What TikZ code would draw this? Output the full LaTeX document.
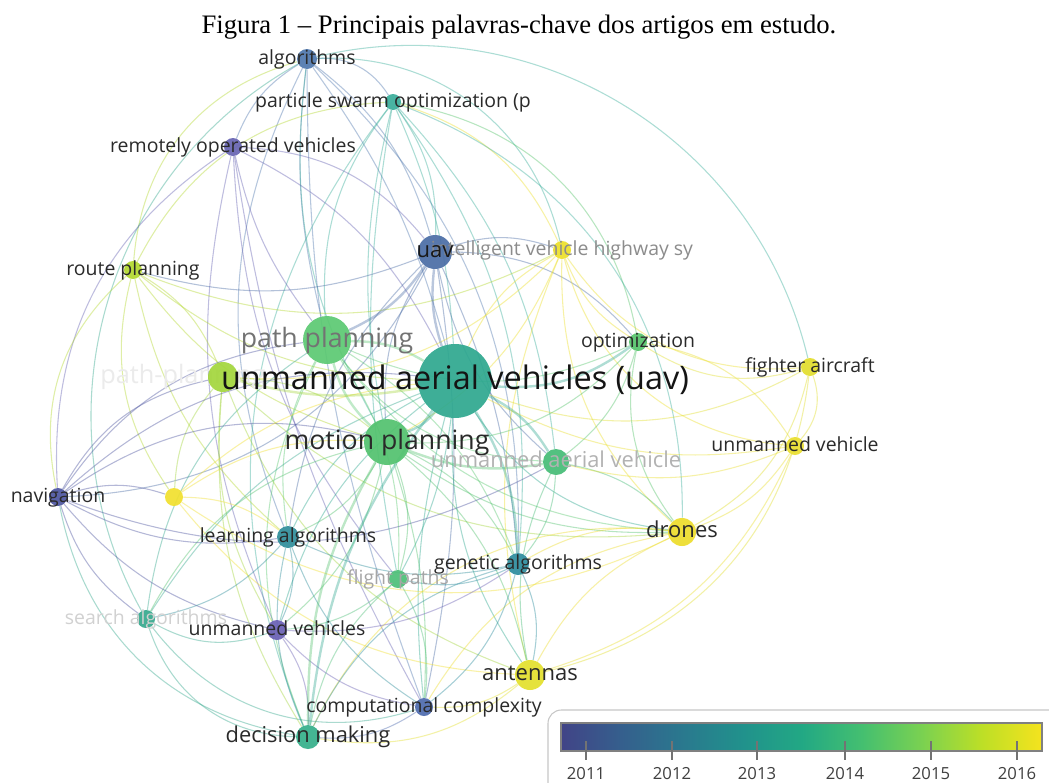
\documentclass[tikz,border=0pt]{standalone}
\usepackage{fontspec}
\setmainfont{Liberation Serif}
\newfontfamily\osans{Open Sans}
\newcommand\lblsize[1]{\osans\fontsize{#1}{#1}\selectfont}
\definecolor{cA}{HTML}{4F78AE}
\definecolor{cP}{HTML}{3AAE9B}
\definecolor{cR}{HTML}{6663B3}
\definecolor{cU}{HTML}{4A6DA6}
\definecolor{cI}{HTML}{EDE02A}
\definecolor{cRP}{HTML}{B3D82E}
\definecolor{cPP}{HTML}{5CC972}
\definecolor{cPH}{HTML}{A3D63C}
\definecolor{cM}{HTML}{2EA88F}
\definecolor{cO}{HTML}{55C46B}
\definecolor{cF}{HTML}{E2DE2C}
\definecolor{cMP}{HTML}{52C26E}
\definecolor{cUA}{HTML}{45BC76}
\definecolor{cUV}{HTML}{EADF2E}
\definecolor{cN}{HTML}{4D55A0}
\definecolor{cY}{HTML}{F1E02E}
\definecolor{cD}{HTML}{EDDD2B}
\definecolor{cLA}{HTML}{2F8E9B}
\definecolor{cGA}{HTML}{2D8D9E}
\definecolor{cFP}{HTML}{4DBF78}
\definecolor{cSA}{HTML}{36A98E}
\definecolor{cUVs}{HTML}{6A60B5}
\definecolor{cAN}{HTML}{E3E02C}
\definecolor{cCC}{HTML}{4E6BAE}
\definecolor{cDM}{HTML}{35AF8A}
\definecolor{lblc}{HTML}{2A2A2A}
\definecolor{v2}{HTML}{414487}
\definecolor{v3}{HTML}{355F8D}
\definecolor{v4}{HTML}{2A788E}
\definecolor{v5}{HTML}{21918C}
\definecolor{v6}{HTML}{22A884}
\definecolor{v7}{HTML}{44BF70}
\definecolor{v8}{HTML}{7AD151}
\definecolor{v9}{HTML}{BDDF26}
\definecolor{v10}{HTML}{F5E31E}
\pgfdeclarehorizontalshading{viridisbar}{100bp}{color(0bp)=(v2); color(25bp)=(v2); color(31.25bp)=(v3); color(37.5bp)=(v4); color(43.75bp)=(v5); color(50bp)=(v6); color(56.25bp)=(v7); color(62.5bp)=(v8); color(68.75bp)=(v9); color(75bp)=(v10); color(100bp)=(v10)}
\pgfdeclarelayer{edges}
\pgfsetlayers{edges,main}
\tikzset{
  dot/.style={circle, inner sep=0pt, draw=none, fill opacity=0.92},
  rad/.style={minimum size=#1*1.5pt},
  lbl/.style={anchor=base, inner sep=0pt, text=lblc, font=\lblsize{#1}, yshift=-0.27*#1pt},
  lbl/.default=14.6,
  edge/.style={line width=0.8pt, draw opacity=0.42},
  bigedge/.style={line width=1.8pt, draw opacity=0.38},
  tick/.style={draw=black!55, line width=0.8pt},
  yearlbl/.style={text=black!75, font=\lblsize{12.5}, anchor=base}
}
\begin{document}
\begin{tikzpicture}[x=0.75pt,y=-0.75pt]
\useasboundingbox (0,0) rectangle (1049,782);
\begin{pgfonlayer}{edges}
\fill[white] (0,0) rectangle (1049,782);
\end{pgfonlayer}
\node[font=\fontsize{20}{24}\selectfont, anchor=base] (title) at (519,33) {Figura 1 -- Principais palavras-chave dos artigos em estudo.};
% faded label under nodes
\node[lbl=19, anchor=base west, text=black!8] (PHl) at (100,377) {path-planning};
% nodes
\node[dot, rad=10, fill=cA] (A) at (307,59) {};
\node[dot, rad=8, fill=cP] (P) at (393,102) {};
\node[dot, rad=9, fill=cR] (R) at (233,147) {};
\node[dot, rad=17, fill=cU] (U) at (435,252) {};
\node[dot, rad=9, fill=cI] (I) at (562,250) {};
\node[dot, rad=9, fill=cRP] (RP) at (133,270) {};
\node[dot, rad=24, fill=cPP] (PP) at (327,340) {};
\node[dot, rad=15, fill=cPH] (PH) at (223,377) {};
\node[dot, rad=37, fill=cM] (M) at (455,381) {};
\node[dot, rad=9, fill=cO] (O) at (638,342) {};
\node[dot, rad=9, fill=cF] (F) at (810,367) {};
\node[dot, rad=23, fill=cMP] (MP) at (387,442) {};
\node[dot, rad=13, fill=cUA] (UA) at (556,462) {};
\node[dot, rad=9, fill=cUV] (UV) at (795,446) {};
\node[dot, rad=9, fill=cN] (N) at (58,497) {};
\node[dot, rad=9, fill=cY] (Y) at (174,497) {};
\node[dot, rad=14, fill=cD] (D) at (682,532) {};
\node[dot, rad=11, fill=cLA] (LA) at (288,537) {};
\node[dot, rad=11, fill=cGA] (GA) at (518,564) {};
\node[dot, rad=9, fill=cFP] (FP) at (398,579) {};
\node[dot, rad=9, fill=cSA] (SA) at (146,619) {};
\node[dot, rad=10, fill=cUVs] (UVs) at (277,630) {};
\node[dot, rad=15, fill=cAN] (AN) at (530,675) {};
\node[dot, rad=9, fill=cCC] (CC) at (424,707) {};
\node[dot, rad=12, fill=cDM] (DM) at (308,737) {};
% labels
\node[lbl] (Al) at (A) {algorithms};
\node[lbl] (Pl) at (P) {particle swarm optimization (p};
\node[lbl] (Rl) at (R) {remotely operated vehicles};
\node[lbl, text=black!45] (Il) at (I) {intelligent vehicle highway sy};
\node[lbl=16.5, text=black!90] (Ul) at (U) {uav};
\node[lbl] (RPl) at (RP) {route planning};
\node[lbl=20, text=black!55] (PPl) at (PP) {path planning};
\node[lbl=24.3, text=black!92] (Ml) at (M) {unmanned aerial vehicles (uav)};
\node[lbl] (Ol) at (O) {optimization};
\node[lbl] (Fl) at (F) {fighter aircraft};
\node[lbl=20] (MPl) at (MP) {motion planning};
\node[lbl=16.4, text=black!30] (UAl) at (UA) {unmanned aerial vehicle};
\node[lbl] (UVl) at (UV) {unmanned vehicle};
\node[lbl] (Nl) at (N) {navigation};
\node[lbl=16.5] (Dl) at (D) {drones};
\node[lbl] (LAl) at (LA) {learning algorithms};
\node[lbl] (GAl) at (GA) {genetic algorithms};
\node[lbl, text=black!35] (FPl) at (FP) {flight paths};
\node[lbl, text=black!18] (SAl) at (SA) {search algorithms};
\node[lbl] (UVsl) at (UVs) {unmanned vehicles};
\node[lbl=16.5] (ANl) at (AN) {antennas};
\node[lbl] (CCl) at (CC) {computational complexity};
\node[lbl=16.4] (DMl) at (DM) {decision making};
% edges
\begin{pgfonlayer}{edges}
\foreach \a/\b/\c/\d in {
A/P/cA/30, A/R/cA/-18, A/U/cA/18, A/M/cA/10, A/PP/cA/-10, A/MP/cP/-18, A/LA/cA/-24, A/GA/cA/24, A/I/cP/40, A/RP/cRP/-35, A/SA/cSA/-45, A/CC/cA/-10, A/F/cP/45,
P/U/cP/18, P/M/cP/10, P/MP/cP/-12, P/PP/cP/-20, P/GA/cP/20, P/O/cO/35, P/RP/cRP/-30, P/I/cI/24, P/DM/cP/-30, P/FP/cP/-10, P/UA/cP/18, P/D/cP/35,
R/U/cR/24, R/M/cR/18, R/N/cR/-30, R/UVs/cR/-18, R/CC/cR/-10, R/PP/cR/-12, R/FP/cR/-18,
U/I/cU/18, U/MP/cU/-18, U/RP/cU/18, U/O/cU/24, U/CC/cU/10, U/GA/cU/10, U/UA/cU/-18, U/LA/cU/-18, U/N/cU/30,
I/M/cI/-18, I/D/cI/-24, I/AN/cI/-18, I/UV/cI/-35, I/F/cI/-30, I/PH/cI/24, I/O/cI/-18, I/RP/cRP/24, I/MP/cI/18,
RP/PH/cRP/18, RP/M/cRP/-18, RP/Y/cRP/-24, RP/MP/cRP/-18, RP/N/cRP/-30, RP/LA/cRP/-18,
PP/LA/cPP/-18, PP/DM/cPP/-24, PP/SA/cSA/-24, PP/N/cN/-24, PP/GA/cPP/18, PP/UA/cPP/-24, PP/FP/cPP/18, PP/O/cPP/-24, PP/D/cPP/-24,
PH/MP/cPH/18, PH/Y/cPH/-18, PH/D/cPH/-24, PH/AN/cPH/-24, PH/DM/cPH/-18, PH/N/cN/-24, PH/UVs/cPH/-18,
M/D/cM/-24, M/AN/cM/-18, M/LA/cM/-18, M/FP/cM/10, M/UVs/cM/-18, M/SA/cSA/-18, M/N/cN/-24, M/CC/cM/-10, M/F/cF/-24, M/UV/cUV/-18,
O/F/cF/-24, O/UA/cO/18, O/D/cO/-24, O/MP/cO/24, O/UV/cUV/24,
F/UV/cF/30, F/D/cF/24, F/AN/cF/35,
MP/LA/cMP/18, MP/FP/cMP/18, MP/GA/cMP/18, MP/UVs/cMP/18, MP/SA/cMP/-24, MP/AN/cMP/18, MP/CC/cMP/10, MP/N/cN/-24, MP/Y/cY/-18, MP/D/cMP/-18,
UA/D/cUA/18, UA/GA/cUA/18, UA/AN/cUA/-18, UA/UV/cUV/-18,
UV/D/cUV/18, UV/AN/cUV/24,
N/Y/cN/18, N/SA/cN/-18, N/UVs/cN/-18, N/LA/cN/-18, N/UA/cN/-24, N/DM/cSA/-35,
Y/M/cY/18, Y/D/cY/-30, Y/AN/cY/-24, Y/LA/cY/18,
D/AN/cD/-18, D/GA/cD/-18, D/DM/cD/-35, D/CC/cD/-24,
LA/UVs/cLA/18, LA/DM/cLA/-18, LA/SA/cLA/18, LA/GA/cLA/-18, LA/CC/cLA/-18,
GA/AN/cGA/18, GA/CC/cGA/18, GA/FP/cGA/18, GA/DM/cGA/-24,
FP/CC/cFP/18, FP/DM/cFP/-18, FP/UVs/cFP/18,
SA/UVs/cSA/-24, SA/DM/cSA/-35, SA/CC/cSA/-35,
UVs/DM/cUVs/18, UVs/CC/cUVs/-18, UVs/GA/cUVs/-18,
AN/DM/cAN/24, AN/CC/cAN/18, CC/DM/cCC/18}
{\draw[edge, draw=\c] (\a) to[bend left=\d] (\b);}
\foreach \a/\b/\c/\d in {
M/MP/cM/15, PP/M/cPP/15, PP/MP/cPP/-15, U/M/cU/-12, U/PP/cU/15, M/UA/cM/15, MP/UA/cMP/-15, M/O/cM/-20, M/GA/cM/15, M/DM/cM/-15, MP/DM/cMP/-15, PH/M/cPH/-12}
{\draw[bigedge, draw=\c] (\a) to[bend left=\d] (\b);}
\end{pgfonlayer}
% colour bar
\draw[draw=black!22, line width=0.8pt, rounded corners=10pt] (548,800) -- (548,710) -- (1070,710);
\shade[shading=viridisbar] (561,723) rectangle (1042,751);
\draw[draw=black!50, line width=0.8pt] (561,723) rectangle (1042,751);
\foreach \x/\yr in {586/2011, 672/2012, 757/2013, 845/2014, 931/2015, 1017/2016}{
  \draw[tick] (\x,741) -- (\x,760);
  \node[yearlbl] (yr\yr) at (\x,779) {\yr};
}
\end{tikzpicture}
\end{document}
